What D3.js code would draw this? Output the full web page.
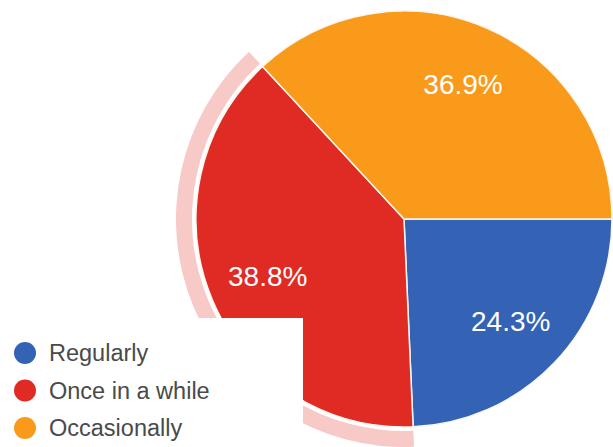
<!DOCTYPE html>
<html>
<head>
<meta charset="utf-8">
<script src="https://cdn.jsdelivr.net/npm/d3@7"></script>
<style>
  html, body { margin: 0; padding: 0; background: #ffffff; }
  svg { display: block; }
</style>
</head>
<body>
<svg id="chart" width="613" height="447"></svg>
<script>
// Survey answers: how often the respondents do it
const categories = ["Regularly", "Once in a while", "Occasionally"];
const shares = [24.3, 38.8, 36.9];
const sliceColors = ["#3462b4", "#e02b25", "#fa9a1b"];
const highlighted = "Once in a while";

const width = 613, height = 447;
const cx = 404, cy = 219, radius = 208;

const svg = d3.select("#chart");

const pie = d3.pie()
  .sort(null)
  .startAngle(Math.PI / 2)
  .endAngle(Math.PI / 2 + 2 * Math.PI)
  .value(d => d.value);

const data = categories.map((c, i) => ({ name: c, value: shares[i], color: sliceColors[i] }));
const arcs = pie(data);

const arc = d3.arc().innerRadius(0).outerRadius(radius);
const haloArc = d3.arc().innerRadius(radius + 4).outerRadius(radius + 20);
const labelArc = d3.arc().innerRadius(radius * 0.71).outerRadius(radius * 0.71);

const g = svg.append("g").attr("transform", `translate(${cx},${cy})`);

// hover ring around the highlighted slice
g.selectAll("path.halo")
  .data(arcs.filter(a => a.data.name === highlighted))
  .join("path")
  .attr("class", "halo")
  .attr("d", haloArc)
  .attr("fill", d => d.data.color)
  .attr("fill-opacity", 0.25);

g.selectAll("path.slice")
  .data(arcs)
  .join("path")
  .attr("class", "slice")
  .attr("d", arc)
  .attr("fill", d => d.data.color)
  .attr("stroke", "#fbf7ee")
  .attr("stroke-width", 1.5)
  .attr("stroke-linejoin", "round");

g.selectAll("text.pct")
  .data(arcs)
  .join("text")
  .attr("class", "pct")
  .attr("transform", d => `translate(${labelArc.centroid(d)})`)
  .attr("text-anchor", "middle")
  .attr("dy", "0.36em")
  .attr("fill", "#ffffff")
  .style("font-family", "Arial, 'Liberation Sans', sans-serif")
  .style("font-size", "28px")
  .text(d => d.data.value.toFixed(1) + "%");

// legend panel sits over the lower-left of the pie
const legend = svg.append("g");
legend.append("rect")
  .attr("x", 0).attr("y", 318)
  .attr("width", 303).attr("height", height - 318)
  .attr("fill", "#ffffff");

const legendY = d3.scalePoint()
  .domain(categories)
  .range([353, 428]);

const items = legend.selectAll("g.item")
  .data(data)
  .join("g")
  .attr("class", "item")
  .attr("transform", d => `translate(25,${legendY(d.name)})`);

items.append("circle")
  .attr("r", 11)
  .attr("fill", d => d.color);

items.append("text")
  .attr("x", 24)
  .attr("dy", "0.36em")
  .attr("fill", "#4a4a4a")
  .style("font-family", "Arial, 'Liberation Sans', sans-serif")
  .style("font-size", "23.5px")
  .text(d => d.name);
</script>
</body>
</html>
